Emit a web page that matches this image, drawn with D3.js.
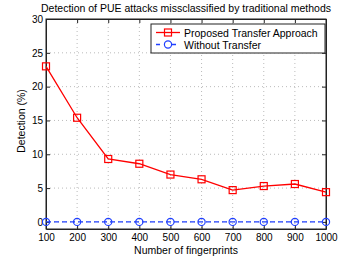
<!DOCTYPE html>
<html>
<head>
<meta charset="utf-8">
<script src="https://cdn.jsdelivr.net/npm/d3@7"></script>
<style>
body { margin: 0; background: #fff; }
text { font-family: "Liberation Sans", Arial, sans-serif; fill: #000; }
</style>
</head>
<body>
<script>
var fingerprints = [100, 200, 300, 400, 500, 600, 700, 800, 900, 1000];
var proposed = [23.0, 15.4, 9.3, 8.6, 7.0, 6.3, 4.7, 5.3, 5.6, 4.4];
var withoutTransfer = [0, 0, 0, 0, 0, 0, 0, 0, 0, 0];
var yTicks = [0, 5, 10, 15, 20, 25, 30];
var seriesNames = ["Proposed Transfer Approach", "Without Transfer"];

var margin = {top: 19, right: 34, bottom: 29, left: 46},
    width = 360 - margin.left - margin.right,
    height = 258 - margin.top - margin.bottom;

var svg = d3.select("body").append("svg")
    .attr("width", 360)
    .attr("height", 258);

var g = svg.append("g")
    .attr("transform", "translate(" + margin.left + "," + margin.top + ")");

var x = d3.scaleLinear().domain([100, 1000]).range([0, width]);
var y = d3.scaleLinear().domain([-1.05, 30]).range([height, 0]);

// grid
g.selectAll(".vgrid")
    .data(fingerprints.slice(1, -1))
    .enter().append("line")
    .attr("x1", function(d) { return x(d); })
    .attr("x2", function(d) { return x(d); })
    .attr("y1", 0).attr("y2", height)
    .style("stroke", "#aaa").style("stroke-width", 0.8)
    .style("stroke-dasharray", "1,3");

g.selectAll(".hgrid")
    .data(yTicks.slice(0, -1))
    .enter().append("line")
    .attr("x1", 0).attr("x2", width)
    .attr("y1", function(d) { return y(d); })
    .attr("y2", function(d) { return y(d); })
    .style("stroke", "#aaa").style("stroke-width", 0.8)
    .style("stroke-dasharray", "1,3");

// axes
g.append("g")
    .attr("transform", "translate(0," + height + ")")
    .call(d3.axisBottom(x).tickValues(fingerprints).tickFormat(d3.format("d"))
        .tickSizeInner(-4).tickSizeOuter(0).tickPadding(5));
g.append("g")
    .call(d3.axisLeft(y).tickValues(yTicks).tickSizeInner(-4).tickSizeOuter(0).tickPadding(3));
g.append("g")
    .call(d3.axisTop(x).tickValues(fingerprints).tickSizeInner(-4).tickSizeOuter(0).tickFormat(""));
g.append("g")
    .attr("transform", "translate(" + width + ",0)")
    .call(d3.axisRight(y).tickValues(yTicks).tickSizeInner(-4).tickSizeOuter(0).tickFormat(""));

g.selectAll(".domain").style("stroke", "#222");
g.selectAll(".tick line").style("stroke", "#222");
g.selectAll(".tick text").style("font-size", "10px").style("fill", "#000");

g.append("rect")
    .attr("width", width).attr("height", height)
    .style("fill", "none").style("stroke", "#222").style("stroke-width", 1);

var line = d3.line()
    .x(function(d, i) { return x(fingerprints[i]); })
    .y(function(d) { return y(d); });

// blue dashed
g.append("path")
    .datum(withoutTransfer)
    .attr("d", line)
    .style("fill", "none").style("stroke", "#1f3fff").style("stroke-width", 1.3)
    .style("stroke-dasharray", "5,3");

g.selectAll(".circ")
    .data(withoutTransfer)
    .enter().append("circle")
    .attr("cx", function(d, i) { return x(fingerprints[i]); })
    .attr("cy", function(d) { return y(d); })
    .attr("r", 3.6)
    .style("fill", "none").style("stroke", "#1f3fff").style("stroke-width", 1.2);

// red solid
g.append("path")
    .datum(proposed)
    .attr("d", line)
    .style("fill", "none").style("stroke", "#ff0000").style("stroke-width", 1.3);

g.selectAll(".sq")
    .data(proposed)
    .enter().append("rect")
    .attr("x", function(d, i) { return x(fingerprints[i]) - 3.5; })
    .attr("y", function(d) { return y(d) - 3.5; })
    .attr("width", 7).attr("height", 7)
    .style("fill", "none").style("stroke", "#ff0000").style("stroke-width", 1.2);

// legend
var legend = g.append("g").attr("transform", "translate(" + (151 - margin.left) + "," + (24 - margin.top) + ")");
legend.append("rect")
    .attr("width", 174).attr("height", 29)
    .style("fill", "#fff").style("stroke", "#222").style("stroke-width", 1);

legend.append("line").attr("x1", 5).attr("x2", 29).attr("y1", 8.5).attr("y2", 8.5)
    .style("stroke", "#ff0000").style("stroke-width", 1.3);
legend.append("rect").attr("x", 13.5).attr("y", 5).attr("width", 7).attr("height", 7)
    .style("fill", "none").style("stroke", "#ff0000").style("stroke-width", 1.2);
legend.append("line").attr("x1", 5).attr("x2", 29).attr("y1", 20.5).attr("y2", 20.5)
    .style("stroke", "#1f3fff").style("stroke-width", 1.3).style("stroke-dasharray", "4,4");
legend.append("circle").attr("cx", 17).attr("cy", 20.5).attr("r", 3.6)
    .style("fill", "#fff").style("stroke", "#1f3fff").style("stroke-width", 1.2);

legend.selectAll(".ltext")
    .data(seriesNames)
    .enter().append("text")
    .attr("x", 33)
    .attr("y", function(d, i) { return 12.5 + i * 12; })
    .style("font-size", "10.5px")
    .text(function(d) { return d; });

// labels
svg.append("text")
    .attr("x", 186).attr("y", 12)
    .attr("text-anchor", "middle")
    .style("font-size", "10.5px")
    .text("Detection of PUE attacks missclassified by traditional methods");

svg.append("text")
    .attr("x", margin.left + width / 2).attr("y", 253.5)
    .attr("text-anchor", "middle")
    .style("font-size", "10.5px")
    .text("Number of fingerprints");

svg.append("text")
    .attr("transform", "translate(25," + (margin.top + height / 2 - 3) + ") rotate(-90)")
    .attr("text-anchor", "middle")
    .style("font-size", "10.5px")
    .text("Detection (%)");
</script>
</body>
</html>
